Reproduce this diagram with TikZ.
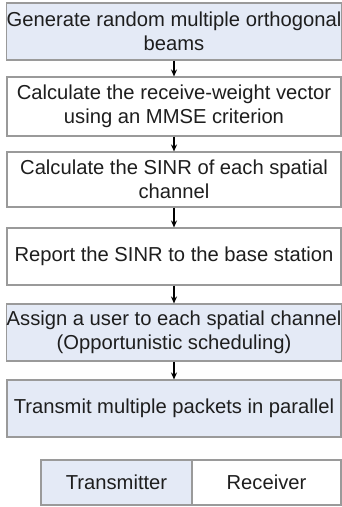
\documentclass[tikz,border=0pt]{standalone}
\usepackage{fontspec}
\setmainfont{Liberation Sans}
\usetikzlibrary{arrows.meta}
\definecolor{txfill}{HTML}{E4EAF6}
\definecolor{edgegray}{HTML}{9A9A9A}
\definecolor{txtcol}{HTML}{1E1E1E}
\begin{document}
\begin{tikzpicture}[x=1pt,y=-1pt,
  box/.style={draw=edgegray,line width=1.1pt,minimum width=334pt,inner sep=0pt,
    align=center,text=txtcol,font=\fontsize{20.2}{23.5}\selectfont},
  tx/.style={box,fill=txfill},
  rx/.style={box,fill=white},
  cell/.style={draw=edgegray,line width=1.1pt,inner sep=0pt,minimum height=45pt,
    text=txtcol,font=\fontsize{20.2}{23.5}\selectfont},
  flow/.style={-{Stealth[length=7pt,width=6pt]},line width=1.3pt,black}]
\useasboundingbox (0,0) rectangle (342,507);
\node[tx,minimum height=57pt] (b1) at (174,31.5) {Generate random multiple orthogonal\\beams};
\node[rx,minimum height=59pt] (b2) at (174,106.5) {Calculate the receive-weight vector\\using an MMSE criterion};
\node[rx,minimum height=55pt] (b3) at (174,179.5) {Calculate the SINR of each spatial\\channel};
\node[rx,minimum height=57pt] (b4) at (174,256.5) {Report the SINR to the base station};
\node[tx,minimum height=57pt] (b5) at (174,332.5) {Assign a user to each spatial channel\\(Opportunistic scheduling)};
\node[tx,minimum height=57pt] (b6) at (174,408.5) {Transmit multiple packets in parallel};
\draw[flow] (b1) -- (b2);
\draw[flow] (b2) -- (b3);
\draw[flow] (b3) -- (b4);
\draw[flow] (b4) -- (b5);
\draw[flow] (b5) -- (b6);
\node[cell,fill=txfill,minimum width=151pt] (lt) at (116.5,482.5) {Transmitter};
\node[cell,fill=white,minimum width=149pt] (lr) at (266.5,482.5) {Receiver};
\end{tikzpicture}
\end{document}
